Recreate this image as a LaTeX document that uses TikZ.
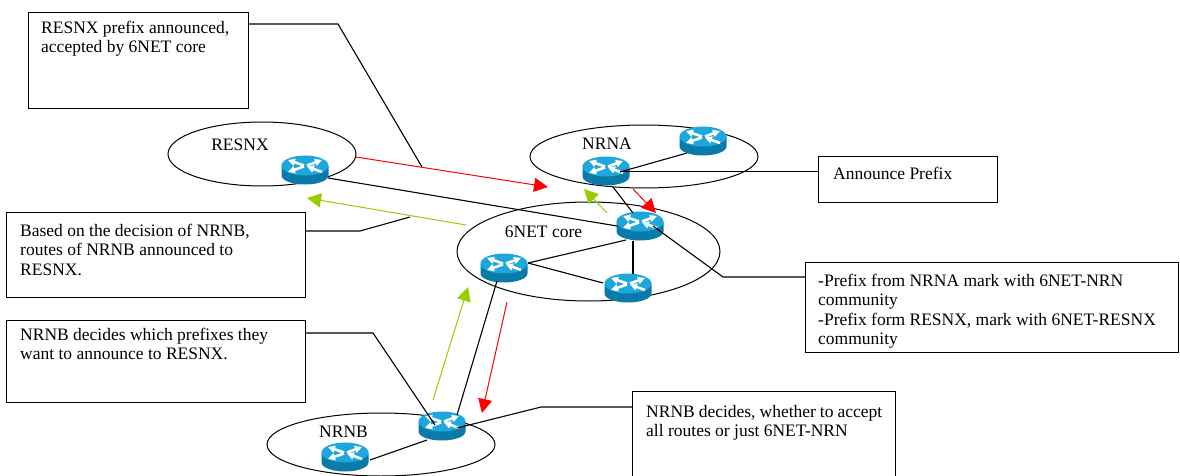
\documentclass[tikz,border=0pt]{standalone}
\usepackage{fontspec}
\setmainfont{Liberation Serif}
\usetikzlibrary{shapes.geometric,arrows.meta}
\definecolor{routertop}{HTML}{1DA7DD}
\definecolor{routerside}{HTML}{0A7BA9}
\definecolor{greenarrow}{HTML}{99CC00}
\tikzset{
  pics/router/.style={code={
    \fill[routerside] (-23.5,-4) -- (-23.5,5.5) arc[start angle=180,end angle=360,x radius=23.5,y radius=-9] -- (23.5,-4) -- cycle;
    \fill[routertop] (0,-4.5) ellipse[x radius=23.5,y radius=10];
    \draw[white,line width=2.6pt,-{Triangle[width=7pt,length=7pt]}] (-1,-4.5) -- (-17,-10);
    \draw[white,line width=2.6pt,-{Triangle[width=7pt,length=7pt]}] (17,2) -- (2,-3.5);
    \draw[white,line width=2.6pt,-{Triangle[width=7pt,length=7pt]}] (2,-4.5) -- (17,-10);
    \draw[white,line width=2.6pt,-{Triangle[width=7pt,length=7pt]}] (-1,-3.5) -- (-17,2);
  }}
}
\begin{document}
\begin{tikzpicture}[x=1pt,y=-1pt,font=\fontsize{17.5}{19.4}\selectfont,
    infobox/.style={draw,line width=1pt,anchor=north west,inner sep=0pt},
    boxtext/.style={anchor=north west,align=left,inner sep=0pt},
    region/.style={draw,line width=1pt,ellipse,inner sep=0pt},
    routernode/.style={minimum width=48pt,minimum height=30pt,inner sep=0pt},
    linkline/.style={line width=1.1pt},
    redarrow/.style={-{Triangle[width=14pt,length=14pt]},red,line width=1pt},
    greenline/.style={-{Triangle[width=14pt,length=14pt]},greenarrow,line width=1pt}]
  \useasboundingbox (0,0) rectangle (1180,476);
  \node[region,minimum width=188pt,minimum height=64pt] (resnxcloud) at (262,154) {};
  \node[region,minimum width=228pt,minimum height=63pt] (nrnacloud) at (644,156.5) {};
  \node[region,minimum width=263pt,minimum height=99pt] (corecloud) at (588.5,251.5) {};
  \node[region,minimum width=228pt,minimum height=63pt] (nrnbcloud) at (381,444.5) {};
  \node (resnxlabel) at (240,145) {RESNX};
  \node (nrnalabel) at (607,144) {NRNA};
  \node (corelabel) at (543.5,232) {6NET core};
  \node (nrnblabel) at (343.5,432) {NRNB};
  \node[routernode] (resnx) at (305,170) {};
  \node[routernode] (nrna) at (606,171) {};
  \node[routernode] (nrnatwo) at (703,141) {};
  \node[routernode] (coretop) at (640,226) {};
  \node[routernode] (coreleft) at (504,268) {};
  \node[routernode] (coreright) at (628,288) {};
  \node[routernode] (nrnb) at (442,426) {};
  \node[routernode] (nrnbtwo) at (345,457) {};
  \foreach \n in {resnx,nrna,nrnatwo,coretop,coreleft,coreright,nrnb,nrnbtwo}
    \pic at (\n) {router};
  \draw[linkline] ([shift={(23,8)}]resnx.center) -- ([shift={(-23,0)}]coretop.center);
  \draw[linkline] ([shift={(-16,12)}]nrnatwo.center) -- ([shift={(14,1)}]nrna.center);
  \draw[linkline] ([shift={(7,16)}]nrna.center) -- ([shift={(-7,-13)}]coretop.center);
  \draw[linkline] ([shift={(-14,14)}]coretop.center) -- ([shift={(24,-5)}]coreleft.center);
  \draw[linkline] ([shift={(24,-5)}]coreleft.center) -- ([shift={(-25,-5)}]coreright.center);
  \draw[linkline] ([shift={(-7,15)}]coretop.center) -- ([shift={(5,-14)}]coreright.center);
  \draw[linkline] ([shift={(-7,13)}]coreleft.center) -- ([shift={(15,-11)}]nrnb.center);
  \draw[linkline] ([shift={(-15,14)}]nrnb.center) -- ([shift={(25,3)}]nrnbtwo.center);
  \node[infobox,minimum width=220pt,minimum height=96pt] (box1) at (28,12) {};
  \node[boxtext] (text1) at (41,21) {RESNX prefix announced,\\accepted by 6NET core};
  \node[infobox,minimum width=299pt,minimum height=85pt] (box2) at (6,212) {};
  \node[boxtext] (text2) at (20,224) {Based on the decision of NRNB,\\routes of NRNB announced to\\RESNX.};
  \node[infobox,minimum width=299pt,minimum height=82pt] (box3) at (6,320) {};
  \node[boxtext] (text3) at (20,328) {NRNB decides which prefixes they\\want to announce to RESNX.};
  \node[infobox,minimum width=179pt,minimum height=46pt] (box4) at (818,156) {};
  \node[boxtext] (text4) at (833,167) {Announce Prefix};
  \node[infobox,minimum width=373pt,minimum height=90pt] (box5) at (805,262) {};
  \node[boxtext] (text5) at (818,274) {-Prefix from NRNA mark with 6NET-NRN\\community\\-Prefix form RESNX, mark with 6NET-RESNX\\community};
  \node[infobox,minimum width=263pt,minimum height=85pt] (box6) at (632,391) {};
  \node[boxtext] (text6) at (646,405) {\hbox to 236pt{NRNB decides, whether to accept}\\all routes or just 6NET-NRN};
  \coordinate (free1) at (422,167);
  \coordinate (free2) at (410,217);
  \draw[linkline] (box1.east |- 0,24) -- (338,24) -- (free1);
  \draw[linkline] (box2.east |- 0,231) -- (360,231) -- (free2);
  \draw[linkline] (box3.east |- 0,333) -- (373,333) -- ([shift={(-7,-1)}]nrnb.center);
  \draw[linkline] (box4.west |- 0,171.5) -- ([shift={(14,0.5)}]nrna.center);
  \draw[linkline] (box5.west |- 0,277) -- (723,277) -- ([shift={(13,0)}]coretop.center);
  \draw[linkline] (box6.west |- 0,407) -- (541,407) -- ([shift={(15,2)}]nrnb.center);
  \coordinate (a1) at (356,157);
  \coordinate (a2) at (548,187);
  \coordinate (a3) at (633,189);
  \coordinate (a4) at (656,213);
  \coordinate (a5) at (507,302);
  \coordinate (a6) at (482,413);
  \coordinate (a7) at (433,400);
  \coordinate (a8) at (468,287);
  \coordinate (a9) at (466,225);
  \coordinate (a10) at (307,198);
  \coordinate (a11) at (607,213);
  \coordinate (a12) at (584,189);
  \draw[redarrow] (a1) -- (a2);
  \draw[redarrow] (a3) -- (a4);
  \draw[redarrow] (a5) -- (a6);
  \draw[greenline] (a7) -- (a8);
  \draw[greenline] (a9) -- (a10);
  \draw[greenline] (a11) -- (a12);
\end{tikzpicture}
\end{document}
